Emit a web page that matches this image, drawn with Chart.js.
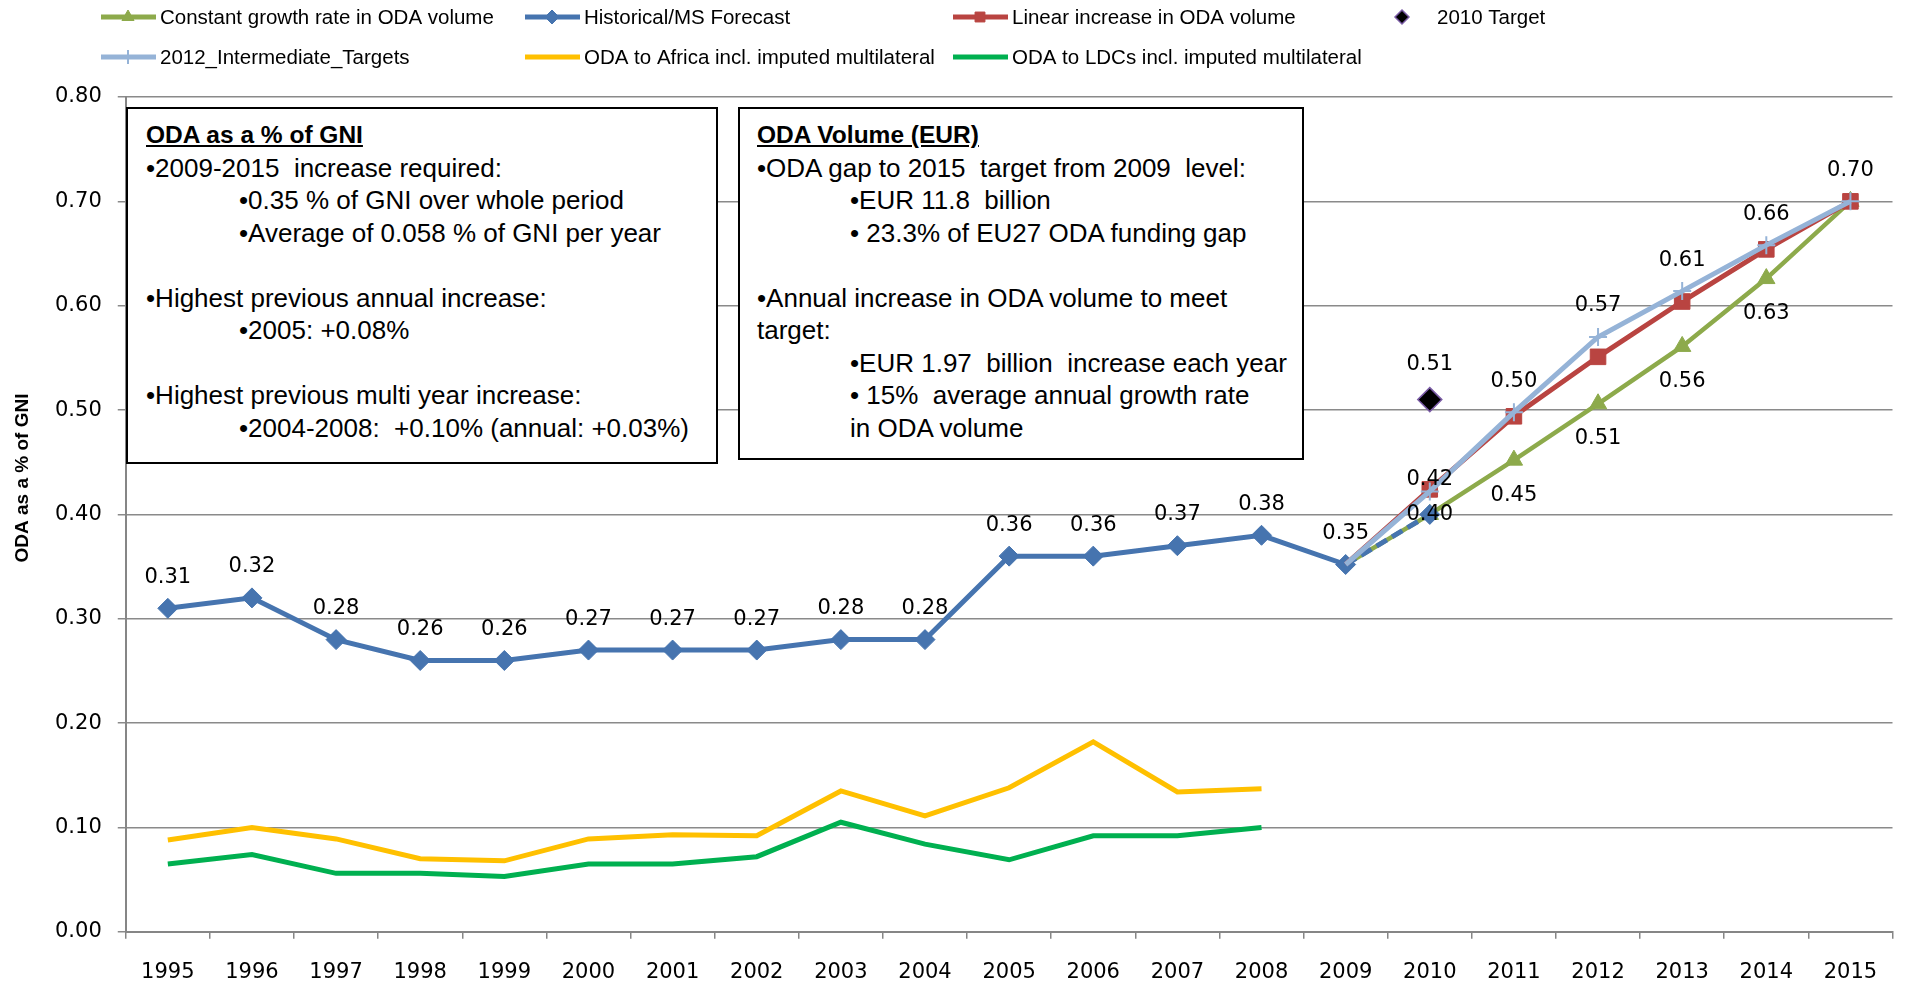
<!DOCTYPE html>
<html>
<head>
<meta charset="utf-8">
<script src="https://cdn.jsdelivr.net/npm/chart.js@4.4.1/dist/chart.umd.min.js"></script>
<style>
  html, body { margin: 0; padding: 0; background: #fff; }
  #wrap { position: relative; width: 1906px; height: 986px; }
  .note {
    position: absolute; box-sizing: border-box; border: 2px solid #000; background: #fff;
    font: 26px "Liberation Sans", Arial, sans-serif; line-height: 32.5px; color: #000;
    padding-top: 10px; white-space: pre;
  }
  .note .h { font-weight: bold; text-decoration: underline; font-size: 24.5px; }
  .note .i { padding-left: 93px; }
</style>
</head>
<body>
<div id="wrap">
  <canvas id="grafico"></canvas>
  <div class="note" style="left:126px; top:107px; width:592px; height:357px; padding-left:18px;"><div class="h">ODA as a % of GNI</div><div>•2009-2015  increase required:</div><div class="i">•0.35 % of GNI over whole period</div><div class="i">•Average of 0.058 % of GNI per year</div><div> </div><div>•Highest previous annual increase:</div><div class="i">•2005: +0.08%</div><div> </div><div>•Highest previous multi year increase:</div><div class="i">•2004-2008:  +0.10% (annual: +0.03%)</div></div>
  <div class="note" style="left:738px; top:107px; width:566px; height:353px; padding-left:17px;"><div class="h">ODA Volume (EUR)</div><div>•ODA gap to 2015  target from 2009  level:</div><div class="i">•EUR 11.8  billion</div><div class="i">• 23.3% of EU27 ODA funding gap</div><div> </div><div>•Annual increase in ODA volume to meet</div><div>target:</div><div class="i">•EUR 1.97  billion  increase each year</div><div class="i">• 15%  average annual growth rate</div><div class="i">in ODA volume</div></div>
</div>
<script>
const anos = ['1995','1996','1997','1998','1999','2000','2001','2002','2003','2004','2005',
              '2006','2007','2008','2009','2010','2011','2012','2013','2014','2015'];

const historico = [0.31, 0.32, 0.28, 0.26, 0.26, 0.27, 0.27, 0.27, 0.28, 0.28, 0.36,
                   0.36, 0.37, 0.38, 0.352, 0.40, null, null, null, null, null];
const crescimentoConstante = [null, null, null, null, null, null, null, null, null, null, null,
                              null, null, null, 0.352, 0.40, 0.452, 0.506, 0.561, 0.626, 0.70];
const aumentoLinear = [null, null, null, null, null, null, null, null, null, null, null,
                       null, null, null, 0.352, 0.424, 0.494, 0.551, 0.604, 0.654, 0.70];
const metasIntermedias = [null, null, null, null, null, null, null, null, null, null, null,
                          null, null, null, 0.352, 0.422, 0.498, 0.570, 0.614, 0.658, 0.70];
const meta2010 = [null, null, null, null, null, null, null, null, null, null, null,
                  null, null, null, null, 0.51, null, null, null, null, null];
const africa = [0.088, 0.100, 0.089, 0.070, 0.068, 0.089, 0.093, 0.092, 0.135, 0.111, 0.138,
                0.182, 0.134, 0.137, null, null, null, null, null, null, null];
const ldcs = [0.065, 0.074, 0.056, 0.056, 0.053, 0.065, 0.065, 0.072, 0.105, 0.084, 0.069,
              0.092, 0.092, 0.100, null, null, null, null, null, null, null];

const ticksY = [0, 0.1, 0.2, 0.3, 0.4, 0.5, 0.6, 0.7, 0.8];

// esconde o marcador no ponto de partida (2009) das projeccoes
function raioSem2009(r) {
    return ctx => ctx.dataIndex === 14 ? 0 : r;
}

// rotulos de valor desenhados junto aos pontos
const rotulosPlugin = {
    id: 'rotulos',
    afterDatasetsDraw(chart) {
        const ctx = chart.ctx;
        ctx.save();
        ctx.font = '21px "DejaVu Sans", sans-serif';
        ctx.fillStyle = '#000';
        ctx.textAlign = 'center';
        ctx.textBaseline = 'middle';
        chart.data.datasets.forEach((ds, i) => {
            if (!ds.rotulos) return;
            const meta = chart.getDatasetMeta(i);
            ds.rotulos.indices.forEach(idx => {
                const pt = meta.data[idx];
                const v = ds.data[idx];
                if (!pt || v == null) return;
                const desvio = ds.rotulos.excecoes && ds.rotulos.excecoes[idx] !== undefined
                    ? ds.rotulos.excecoes[idx] : ds.rotulos.desvio;
                ctx.fillText(v.toFixed(2), pt.x, pt.y + desvio);
            });
        });
        ctx.restore();
    }
};

// titulo do eixo y, um pouco acima do centro como no original
const tituloYPlugin = {
    id: 'tituloY',
    afterDraw(chart, args, opts) {
        const ctx = chart.ctx;
        ctx.save();
        ctx.translate(opts.x, opts.y);
        ctx.rotate(-Math.PI / 2);
        ctx.font = 'bold 19px "Liberation Sans", Arial, sans-serif';
        ctx.fillStyle = '#000';
        ctx.textAlign = 'center';
        ctx.textBaseline = 'middle';
        ctx.fillText(opts.text, 0, 0);
        ctx.restore();
    }
};

// legenda em grelha (duas linhas) como no original
const legendaPlugin = {
    id: 'legendaGrelha',
    afterDraw(chart, args, opts) {
        const ctx = chart.ctx;
        chart.data.datasets.forEach((ds, i) => {
            const s = opts.posicoes[i];
            if (!s) return;
            ctx.save();
            let xm = s.x + 27;
            let xt = s.x + 59;
            if (ds.showLine === false) {
                xm = s.x;
                xt = s.x + 35;
            } else {
                ctx.strokeStyle = ds.borderColor;
                ctx.lineWidth = 5;
                ctx.beginPath();
                ctx.moveTo(s.x, s.y);
                ctx.lineTo(s.x + 55, s.y);
                ctx.stroke();
            }
            if (ds.pointStyle) {
                ctx.fillStyle = ds.pointBackgroundColor;
                ctx.strokeStyle = ds.pointBorderColor;
                ctx.lineWidth = ds.pointBorderWidth || 1;
                Chart.helpers.drawPoint(ctx, {
                    pointStyle: ds.pointStyle, rotation: 0, radius: 7, borderWidth: ctx.lineWidth
                }, xm, s.y);
            }
            ctx.fillStyle = '#000';
            ctx.font = '20.5px "Liberation Sans", Arial, sans-serif';
            ctx.textAlign = 'left';
            ctx.textBaseline = 'middle';
            ctx.fillText(ds.label, xt, s.y + 1);
            ctx.restore();
        });
    }
};

const ctx = document.getElementById('grafico').getContext('2d');
const grafico = new Chart(ctx, {
    type: 'line',
    data: {
        labels: anos,
        datasets: [
            {
                label: 'Constant growth rate in ODA volume',
                data: crescimentoConstante,
                borderColor: '#8DAA4B', backgroundColor: '#8DAA4B',
                pointBackgroundColor: '#8DAA4B', pointBorderColor: '#8DAA4B', pointBorderWidth: 1,
                borderWidth: 4.5, pointStyle: 'triangle', pointRadius: raioSem2009(10),
                order: 4,
                rotulos: { indices: [15, 16, 17, 18, 19], desvio: 35, excecoes: { 15: 0 } }
            },
            {
                label: 'Historical/MS Forecast',
                data: historico,
                borderColor: '#4674AF', backgroundColor: '#4674AF',
                pointBackgroundColor: '#4674AF', pointBorderColor: '#4674AF', pointBorderWidth: 1,
                borderWidth: 5, pointStyle: 'rectRot', pointRadius: 10,
                segment: { borderDash: c => c.p0DataIndex >= 14 ? [12, 6] : undefined },
                order: 3,
                rotulos: { indices: [0, 1, 2, 3, 4, 5, 6, 7, 8, 9, 10, 11, 12, 13, 14], desvio: -31 }
            },
            {
                label: 'Linear increase in ODA volume',
                data: aumentoLinear,
                borderColor: '#B94441', backgroundColor: '#B94441',
                pointBackgroundColor: '#B94441', pointBorderColor: '#B94441', pointBorderWidth: 1,
                borderWidth: 5, pointStyle: 'rect', pointRadius: raioSem2009(11),
                order: 2,
                rotulos: { indices: [15], desvio: -10 }
            },
            {
                label: '2010 Target',
                data: meta2010,
                showLine: false,
                borderColor: '#000', backgroundColor: '#000',
                pointBackgroundColor: '#000', pointBorderColor: '#7A5BA5', pointBorderWidth: 1.5,
                pointStyle: 'rectRot', pointRadius: 12,
                order: 0,
                rotulos: { indices: [15], desvio: -35 }
            },
            {
                label: '2012_Intermediate_Targets',
                data: metasIntermedias,
                borderColor: '#95B3D7', backgroundColor: '#95B3D7',
                pointBackgroundColor: '#95B3D7', pointBorderColor: '#95B3D7', pointBorderWidth: 2,
                borderWidth: 5, pointStyle: 'cross', pointRadius: raioSem2009(9),
                order: 1,
                rotulos: { indices: [16, 17, 18, 19, 20], desvio: -31 }
            },
            {
                label: 'ODA to Africa incl. imputed multilateral',
                data: africa,
                borderColor: '#FFC000', backgroundColor: '#FFC000',
                borderWidth: 5, pointRadius: 0, pointStyle: false,
                order: 5
            },
            {
                label: 'ODA to LDCs incl. imputed multilateral',
                data: ldcs,
                borderColor: '#00B050', backgroundColor: '#00B050',
                borderWidth: 5, pointRadius: 0, pointStyle: false,
                order: 6
            }
        ]
    },
    options: {
        responsive: true,
        maintainAspectRatio: false,
        animation: false,
        layout: { padding: { top: 97, right: -6, bottom: -20, left: 39 } },
        elements: { line: { tension: 0 } },
        plugins: {
            legend: { display: false },
            tooltip: { enabled: false },
            tituloY: { text: 'ODA as a % of GNI', x: 23, y: 478 },
            legendaGrelha: {
                posicoes: [
                    { x: 101, y: 17 }, { x: 525, y: 17 }, { x: 953, y: 17 }, { x: 1402, y: 17 },
                    { x: 101, y: 57 }, { x: 525, y: 57 }, { x: 953, y: 57 }
                ]
            }
        },
        scales: {
            x: {
                offset: true,
                grid: { offset: true, drawOnChartArea: false, drawTicks: true, tickLength: 7, color: '#868686', lineWidth: 1.5 },
                border: { color: '#868686', width: 2 },
                ticks: { color: '#000', padding: 21, maxRotation: 0, autoSkip: false,
                         font: { family: '"DejaVu Sans", sans-serif', size: 21 } }
            },
            y: {
                min: 0,
                max: 0.8,
                afterBuildTicks: scale => { scale.ticks = ticksY.map(v => ({ value: v })); },
                grid: { color: '#8A8A8A', lineWidth: 1.5, tickLength: 8 },
                border: { color: '#868686', width: 2 },
                ticks: { color: '#000', padding: 16,
                         font: { family: '"DejaVu Sans", sans-serif', size: 21 },
                         callback: v => Number(v).toFixed(2) }
            }
        }
    },
    plugins: [rotulosPlugin, legendaPlugin, tituloYPlugin]
});
</script>
</body>
</html>
